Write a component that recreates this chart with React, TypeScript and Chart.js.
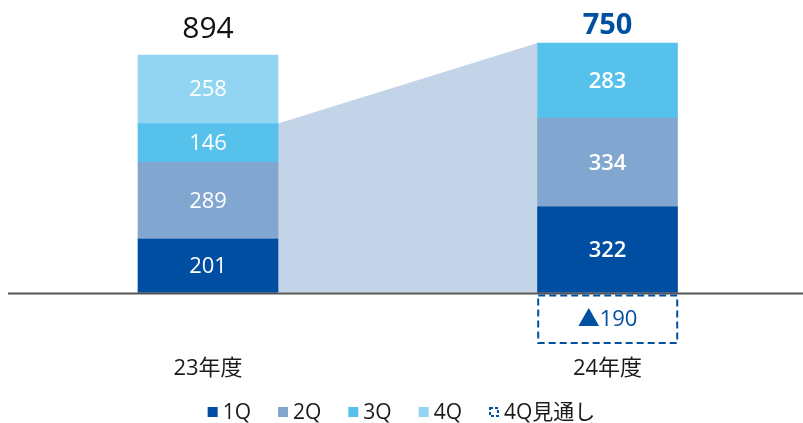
import React, { useEffect, useRef } from 'react';
import { Chart, registerables } from 'chart.js';

Chart.register(...registerables);

const categories = ['23年度', '24年度'];
const q1 = [201, 322];
const q2 = [289, 334];
const q3 = [146, 283];
const q4 = [258, null];
const q4Forecast = [null, -190];
const totals = [894, 750];
const seriesNames = ['1Q', '2Q', '3Q', '4Q', '4Q見通し'];

const colors = ['#004ea2', '#81a6d0', '#56c1eb', '#92d5f3'];
const FONT = '"Open Sans", "Noto Sans CJK JP", sans-serif';
const BLUE = '#0050a0';

const toPts = (arr: (number | null)[]) => arr.map((v, i) => ({ x: i, y: v }));

const bridgePlugin = {
  id: 'bridge',
  beforeDatasetsDraw(chart: any) {
    const c = chart.ctx;
    const ys = chart.scales.y;
    const a = chart.getDatasetMeta(2).data[0].getProps(['x', 'y', 'width'], true);
    const b = chart.getDatasetMeta(2).data[1].getProps(['x', 'y', 'width'], true);
    const y0 = ys.getPixelForValue(0);
    const x1 = a.x + a.width / 2;
    const x2 = b.x - b.width / 2;
    c.save();
    c.fillStyle = '#c3d3e8';
    c.beginPath();
    c.moveTo(x1, a.y);
    c.lineTo(x2, b.y);
    c.lineTo(x2, y0);
    c.lineTo(x1, y0);
    c.closePath();
    c.fill();
    c.restore();
  },
};

const overlayPlugin = {
  id: 'overlay',
  afterDatasetsDraw(chart: any) {
    const c = chart.ctx;
    const ys = chart.scales.y;
    const y0 = ys.getPixelForValue(0);
    c.save();
    // baseline
    c.strokeStyle = '#555555';
    c.lineWidth = 2;
    c.beginPath();
    c.moveTo(8, y0 + 1);
    c.lineTo(chart.width, y0 + 1);
    c.stroke();

    // segment labels
    const series = [q1, q2, q3, q4];
    c.textAlign = 'center';
    c.textBaseline = 'middle';
    c.fillStyle = '#ffffff';
    for (let d = 0; d < 4; d++) {
      const meta = chart.getDatasetMeta(d);
      series[d].forEach((v, i) => {
        if (v == null) return;
        const el = meta.data[i].getProps(['x', 'y', 'base'], true);
        c.font = `${i === 1 ? 600 : 400} 22px ${FONT}`;
        c.fillText(String(v), el.x, (el.y + el.base) / 2 + 1);
      });
    }

    // forecast dashed box
    const fm = chart.getDatasetMeta(4);
    q4Forecast.forEach((v, i) => {
      if (v == null) return;
      const el = fm.data[i].getProps(['x', 'y', 'base', 'width'], true);
      const left = el.x - el.width / 2 + 0.7;
      const right = el.x + el.width / 2 - 0.3;
      const top = el.base + 3;
      const bottom = el.y;
      c.strokeStyle = BLUE;
      c.lineWidth = 2;
      c.setLineDash([7, 4]);
      c.strokeRect(left, top, right - left, bottom - top);
      c.setLineDash([]);
      c.fillStyle = BLUE;
      c.font = `400 22px ${FONT}`;
      c.fillText('▲' + Math.abs(v), el.x, (top + bottom) / 2 + 1);
    });

    // totals
    totals.forEach((t, i) => {
      let sum = 0;
      [q1, q2, q3, q4].forEach((s) => {
        const v = s[i];
        if (v != null && v > 0) sum += v;
      });
      const top = ys.getPixelForValue(sum);
      const x = chart.getDatasetMeta(0).data[i].getProps(['x'], true).x;
      c.textBaseline = 'alphabetic';
      if (i === 0) {
        c.fillStyle = '#111111';
        c.font = `400 30px ${FONT}`;
        c.fillText(String(t), x, top - 17);
      } else {
        c.fillStyle = BLUE;
        c.font = `700 29px ${FONT}`;
        c.fillText(String(t), x, top - 9);
      }
    });
    c.restore();
  },
};

const legendPlugin = {
  id: 'customLegend',
  afterDraw(chart: any) {
    const c = chart.ctx;
    c.save();
    c.font = `400 21px ${FONT}`;
    const box = 10;
    const gap = 5;
    const spacing = 27;
    const widths = seriesNames.map((n) => box + gap + c.measureText(n).width);
    const total = widths.reduce((a, b) => a + b, 0) + spacing * (seriesNames.length - 1);
    let x = (chart.width - total) / 2;
    const yc = 412;
    seriesNames.forEach((n, i) => {
      if (i < 4) {
        c.fillStyle = colors[i];
        c.fillRect(x, yc - 5, box, box);
      } else {
        c.strokeStyle = BLUE;
        c.lineWidth = 2;
        c.setLineDash([3, 2]);
        c.strokeRect(x + 1, yc - 4, box - 2, box - 2);
        c.setLineDash([]);
      }
      c.fillStyle = '#1a1a1a';
      c.textBaseline = 'middle';
      c.textAlign = 'left';
      c.fillText(n, x + box + gap, yc + 1);
      x += widths[i] + spacing;
    });
    c.restore();
  },
};

export default function App() {
  const ref = useRef<HTMLCanvasElement>(null);
  useEffect(() => {
    document.body.style.margin = '0';
    const canvas = ref.current!;
    const chart = new Chart(canvas, {
      type: 'bar',
      data: {
        datasets: [
          { label: seriesNames[0], data: toPts(q1), backgroundColor: colors[0] },
          { label: seriesNames[1], data: toPts(q2), backgroundColor: colors[1] },
          { label: seriesNames[2], data: toPts(q3), backgroundColor: colors[2] },
          { label: seriesNames[3], data: toPts(q4), backgroundColor: colors[3] },
          { label: seriesNames[4], data: toPts(q4Forecast), backgroundColor: 'rgba(0,0,0,0)' },
        ] as any,
      },
      options: {
        responsive: false,
        animation: false,
        layout: { padding: { top: 26.8, bottom: 31, left: 0, right: 0 } },
        datasets: { bar: { barThickness: 140, borderWidth: 0 } } as any,
        plugins: { legend: { display: false }, tooltip: { enabled: false } },
        scales: {
          x: {
            type: 'linear',
            stacked: true,
            offset: false,
            bounds: 'data',
            min: -0.52065,
            max: 1.48935,
            grid: { display: false, drawTicks: false, offset: false },
            border: { display: false },
            afterBuildTicks: (s: any) => {
              s.ticks = categories.map((_, i) => ({ value: i }));
            },
            ticks: {
              padding: 10,
              autoSkip: false,
              maxRotation: 0,
              color: '#1a1a1a',
              font: { size: 22, family: FONT },
              callback: (v: any) => categories[v as number] ?? '',
            },
          },
          y: { display: false, stacked: true, min: -200, max: 1000 },
        },
      } as any,
      plugins: [bridgePlugin, overlayPlugin, legendPlugin],
    });
    return () => chart.destroy();
  }, []);
  return <canvas ref={ref} width={803} height={423} style={{ display: 'block', width: 803, height: 423 }} />;
}
